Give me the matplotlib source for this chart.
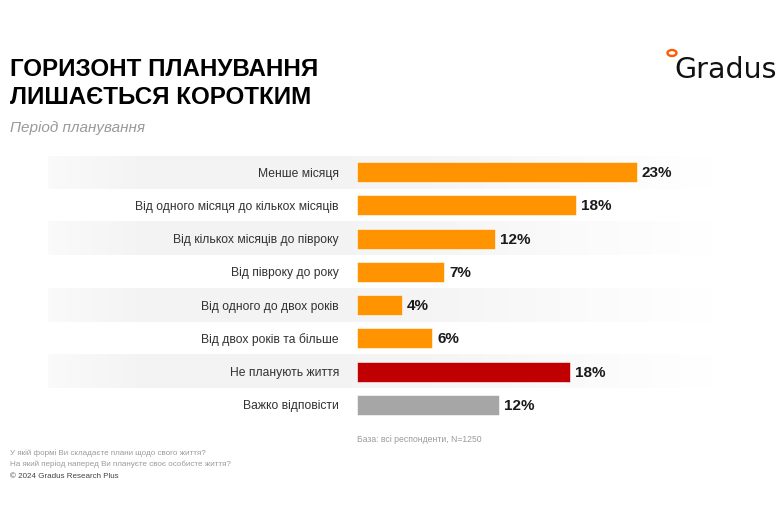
import numpy as np
import matplotlib
matplotlib.use("Agg")
import matplotlib.pyplot as plt
from matplotlib.patches import Circle

plt.rcParams["font.family"] = ["Liberation Sans", "DejaVu Sans"]

# ---------------- data ----------------
categories = [
    "Менше місяця",
    "Від одного місяця до кількох місяців",
    "Від кількох місяців до півроку",
    "Від півроку до року",
    "Від одного до двох років",
    "Від двох років та більше",
    "Не планують життя",
    "Важко відповісти",
]
values = [23.1, 18.1, 11.4, 7.2, 3.7, 6.2, 17.6, 11.7]
value_labels = ["23%", "18%", "12%", "7%", "4%", "6%", "18%", "12%"]
bar_colors = ["#FF9400"] * 6 + ["#C00000", "#A6A6A6"]

title_lines = ["ГОРИЗОНТ ПЛАНУВАННЯ", "ЛИШАЄТЬСЯ КОРОТКИМ"]
subtitle = "Період планування"
base_note = "База: всі респонденти, N=1250"
questions = ["У якій формі Ви складаєте плани щодо свого життя?",
             "На який період наперед Ви плануєте своє особисте життя?"]
copyright_note = "© 2024 Gradus Research Plus"

W, H = 780, 520
fig = plt.figure(figsize=(W / 100, H / 100), dpi=100)
fig.patch.set_facecolor("white")


def px(x, y):
    return x / W, 1 - y / H


# rows area in pixels
top_px, bot_px = 155.5, 421.5
n = len(categories)

# ---------------- striped background ----------------
bg = fig.add_axes([48 / W, 1 - bot_px / H, (715 - 48) / W, (bot_px - top_px) / H])
bg.set_xlim(0, 1)
bg.axis("off")
xs = np.linspace(0, 1, 400)
alpha = np.interp(xs, [0, 0.15, 0.55, 0.8, 1.0], [0.4, 1.0, 0.9, 0.35, 0.0])
rgba = np.zeros((1, len(xs), 4))
rgba[..., :3] = 0.955
rgba[0, :, 3] = alpha
for i in range(0, n, 2):
    bg.imshow(rgba, extent=(0, 1, i + 0.5, i - 0.5), aspect="auto",
              interpolation="bilinear")
bg.set_xlim(0, 1)
bg.set_ylim(n - 0.5, -0.5)

# ---------------- bars ----------------
bar_left = 357
px_per_pct = 12.1
ax = fig.add_axes([bar_left / W, 1 - bot_px / H, (715 - bar_left) / W, (bot_px - top_px) / H])
ax.patch.set_alpha(0)
y = np.arange(n)
ax.barh(y, values, height=0.6, color=bar_colors, edgecolor="white", linewidth=0.4)
ax.set_xlim(0, (715 - bar_left) / px_per_pct)
ax.set_ylim(n - 0.5, -0.5)
for yi, v, lab in zip(y, values, value_labels):
    ax.text(v + 0.45, yi + 0.03, lab, va="center", ha="left", fontsize=11,
            fontweight="bold", color="#1a1a1a")
ax.set_yticks(y)
ax.set_yticklabels(categories, fontsize=8.7, color="#333333")
ax.tick_params(axis="y", length=0, pad=13)
ax.set_xticks([])
for s in ax.spines.values():
    s.set_visible(False)

# ---------------- texts ----------------
fig.text(*px(9.5, 76), title_lines[0], fontsize=17.4, fontweight="bold", color="black",
         ha="left", va="baseline")
fig.text(*px(9.5, 104), title_lines[1], fontsize=17.4, fontweight="bold", color="black",
         ha="left", va="baseline")
fig.text(*px(10, 128), subtitle, fontsize=11, style="italic", color="#9a9a9a",
         ha="left", va="center")

# logo
fig.text(*px(674, 78), "Gradus", fontsize=20.5, color="#111111", ha="left",
         va="baseline", family=["DejaVu Sans"])
fig.patches.append(Circle(px(672, 53), 3.0 / H, transform=fig.transFigure,
                          facecolor="white", edgecolor="#FF5A00", linewidth=1.7))

fig.text(*px(357, 439), base_note, fontsize=6.2, color="#9a9a9a", ha="left", va="center")
fig.text(*px(10, 453), questions[0], fontsize=5.75, color="#9a9a9a", ha="left", va="center")
fig.text(*px(10, 464), questions[1], fontsize=5.75, color="#9a9a9a", ha="left", va="center")
fig.text(*px(10, 477), copyright_note, fontsize=5.8, color="#444444", ha="left", va="center")

fig.savefig("out.png", dpi=100, facecolor="white")
